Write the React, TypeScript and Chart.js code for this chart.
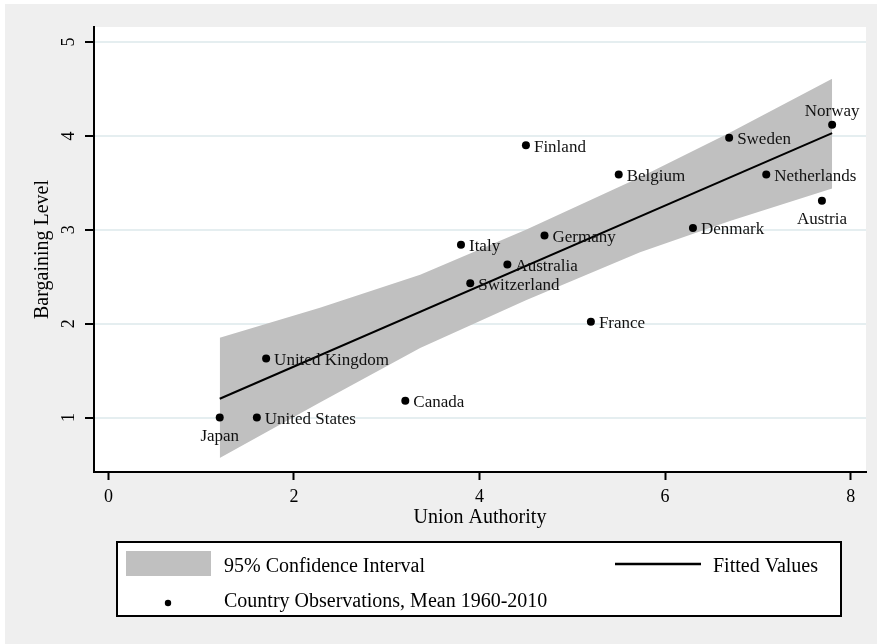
import React, { useEffect, useRef } from "react";
import { Chart, registerables } from "chart.js";

Chart.register(...registerables);

// ---- data ----
const countries = [
  "Norway", "Sweden", "Finland", "Belgium", "Netherlands", "Austria", "Denmark", "Germany",
  "Italy", "Australia", "Switzerland", "France", "United Kingdom", "Canada", "Japan", "United States",
];
const unionAuthority = [7.8, 6.69, 4.5, 5.5, 7.09, 7.69, 6.3, 4.7, 3.8, 4.3, 3.9, 5.2, 1.7, 3.2, 1.2, 1.6];
const bargainingLevel = [4.12, 3.98, 3.9, 3.59, 3.59, 3.31, 3.02, 2.94, 2.84, 2.63, 2.43, 2.02, 1.63, 1.18, 1.0, 1.0];

const fitX = [1.2, 7.8];
const fitY = [1.2, 4.03];

const bandX = [1.2, 2.28, 3.36, 4.5, 5.73, 6.69, 7.8];
const bandUpper = [1.85, 2.17, 2.52, 3.0, 3.56, 4.03, 4.61];
const bandLower = [0.57, 1.16, 1.74, 2.25, 2.76, 3.09, 3.44];

const xTickValues = [0, 2, 4, 6, 8];
const yTickValues = [1, 2, 3, 4, 5];

const xTitle = "Union Authority";
const yTitle = "Bargaining Level";
const legendLabels = ["95% Confidence Interval", "Fitted Values", "Country Observations, Mean 1960-2010"];

// label placement (style, kept apart from the data)
const labelPlacement: Record<string, string> = { Norway: "top", Austria: "bottom", Japan: "bottom" };

const SERIF = '"Liberation Serif", "Times New Roman", serif';
const BAND_COLOR = "#c0c0c0";

const chartAreaBg = {
  id: "chartAreaBg",
  beforeDraw(chart: any) {
    const { ctx, chartArea } = chart;
    ctx.save();
    ctx.fillStyle = "#ffffff";
    ctx.fillRect(chartArea.left, chartArea.top, chartArea.right - chartArea.left, chartArea.bottom - chartArea.top);
    ctx.restore();
  },
};

const pointLabels = {
  id: "pointLabels",
  afterDatasetsDraw(chart: any) {
    const { ctx } = chart;
    const meta = chart.getDatasetMeta(0);
    ctx.save();
    ctx.font = `17px ${SERIF}`;
    ctx.fillStyle = "#111";
    meta.data.forEach((pt: any, i: number) => {
      const name = countries[i];
      const pos = labelPlacement[name] || "right";
      if (pos === "top") {
        ctx.textAlign = "center";
        ctx.textBaseline = "middle";
        ctx.fillText(name, pt.x, pt.y - 13);
      } else if (pos === "bottom") {
        ctx.textAlign = "center";
        ctx.textBaseline = "middle";
        ctx.fillText(name, pt.x, pt.y + 19);
      } else {
        ctx.textAlign = "left";
        ctx.textBaseline = "middle";
        ctx.fillText(name, pt.x + 8, pt.y + 2);
      }
    });
    ctx.restore();
  },
};

const customLegend = {
  id: "customLegend",
  afterDraw(chart: any) {
    const { ctx } = chart;
    const left = 112, top = 538, w = 724, h = 74;
    ctx.save();
    ctx.fillStyle = "#ffffff";
    ctx.fillRect(left, top, w, h);
    ctx.strokeStyle = "#000";
    ctx.lineWidth = 2;
    ctx.strokeRect(left, top, w, h);

    // band swatch
    ctx.fillStyle = BAND_COLOR;
    ctx.fillRect(left + 9, top + 9, 85, 25);
    // fitted line swatch
    ctx.strokeStyle = "#000";
    ctx.lineWidth = 2.5;
    ctx.beginPath();
    ctx.moveTo(left + 498, top + 22);
    ctx.lineTo(left + 584, top + 22);
    ctx.stroke();
    // dot swatch
    ctx.fillStyle = "#000";
    ctx.beginPath();
    ctx.arc(left + 51, top + 61, 3.2, 0, Math.PI * 2);
    ctx.fill();

    ctx.font = `20px ${SERIF}`;
    ctx.fillStyle = "#000";
    ctx.textAlign = "left";
    ctx.textBaseline = "alphabetic";
    ctx.fillText(legendLabels[0], left + 107, top + 30);
    ctx.fillText(legendLabels[1], left + 596, top + 30);
    ctx.fillText(legendLabels[2], left + 107, top + 64.5);
    ctx.restore();
  },
};

export default function App() {
  const ref = useRef<HTMLCanvasElement>(null);

  useEffect(() => {
    if (!ref.current) return;
    const chart = new Chart(ref.current, {
      type: "scatter",
      data: {
        datasets: [
          {
            label: legendLabels[2],
            data: countries.map((_, i) => ({ x: unionAuthority[i], y: bargainingLevel[i] })),
            backgroundColor: "#000",
            borderColor: "#000",
            pointRadius: 4,
            pointBorderWidth: 0,
            pointHoverRadius: 4,
            order: 0,
          } as any,
          {
            type: "line",
            label: legendLabels[1],
            data: fitX.map((x, i) => ({ x, y: fitY[i] })),
            borderColor: "#000",
            borderWidth: 2,
            pointRadius: 0,
            fill: false,
            tension: 0,
            order: 1,
          } as any,
          {
            type: "line",
            label: legendLabels[0],
            data: bandX.map((x, i) => ({ x, y: bandUpper[i] })),
            borderColor: "rgba(0,0,0,0)",
            borderWidth: 0,
            backgroundColor: BAND_COLOR,
            pointRadius: 0,
            fill: "+1",
            tension: 0,
            order: 2,
          } as any,
          {
            type: "line",
            label: "lower",
            data: bandX.map((x, i) => ({ x, y: bandLower[i] })),
            borderColor: "rgba(0,0,0,0)",
            borderWidth: 0,
            backgroundColor: BAND_COLOR,
            pointRadius: 0,
            fill: false,
            tension: 0,
            order: 3,
          } as any,
        ],
      },
      options: {
        responsive: false,
        animation: false,
        events: [],
        layout: { padding: { left: 0, top: 23, right: 11, bottom: 72 } },
        plugins: {
          legend: { display: false },
          tooltip: { enabled: false },
        },
        scales: {
          x: {
            type: "linear",
            min: -0.155,
            max: 8.165,
            afterBuildTicks: (s: any) => {
              s.ticks = xTickValues.map((v) => ({ value: v }));
            },
            afterFit: (s: any) => {
              s.height = 100;
            },
            grid: {
              drawOnChartArea: false,
              drawTicks: true,
              tickLength: 8,
              tickColor: "#000",
              tickWidth: 2,
            },
            border: { display: true, color: "#000", width: 2 },
            ticks: {
              color: "#000",
              font: { family: SERIF, size: 18 },
              padding: 6,
              minRotation: 0,
              maxRotation: 0,
            },
            title: {
              display: true,
              text: xTitle,
              color: "#000",
              font: { family: SERIF, size: 20 },
              padding: { top: 0, bottom: 42 },
            },
          },
          y: {
            type: "linear",
            min: 0.42,
            max: 5.16,
            afterBuildTicks: (s: any) => {
              s.ticks = yTickValues.map((v) => ({ value: v }));
            },
            afterFit: (s: any) => {
              s.width = 89;
            },
            grid: {
              color: "#e5eef0",
              lineWidth: 2,
              drawTicks: true,
              tickLength: 9,
              tickColor: "#000",
              tickWidth: 2,
            },
            border: { display: true, color: "#000", width: 2 },
            ticks: {
              color: "#000",
              font: { family: SERIF, size: 18 },
              padding: 11,
              minRotation: 90,
              maxRotation: 90,
              crossAlign: "center",
            },
            title: {
              display: true,
              text: yTitle,
              color: "#000",
              font: { family: SERIF, size: 20 },
              padding: { top: 26, bottom: 0 },
            },
          },
        },
      } as any,
      plugins: [chartAreaBg, pointLabels, customLegend],
    });
    return () => chart.destroy();
  }, []);

  return (
    <div style={{ position: "fixed", left: 0, top: 0, width: 877, height: 644, background: "#ffffff" }}>
      <div style={{ position: "absolute", left: 5, top: 4, width: 872, height: 640, background: "#efefef" }}>
        <canvas ref={ref} width={872} height={640} style={{ display: "block", width: 872, height: 640 }} />
      </div>
    </div>
  );
}
